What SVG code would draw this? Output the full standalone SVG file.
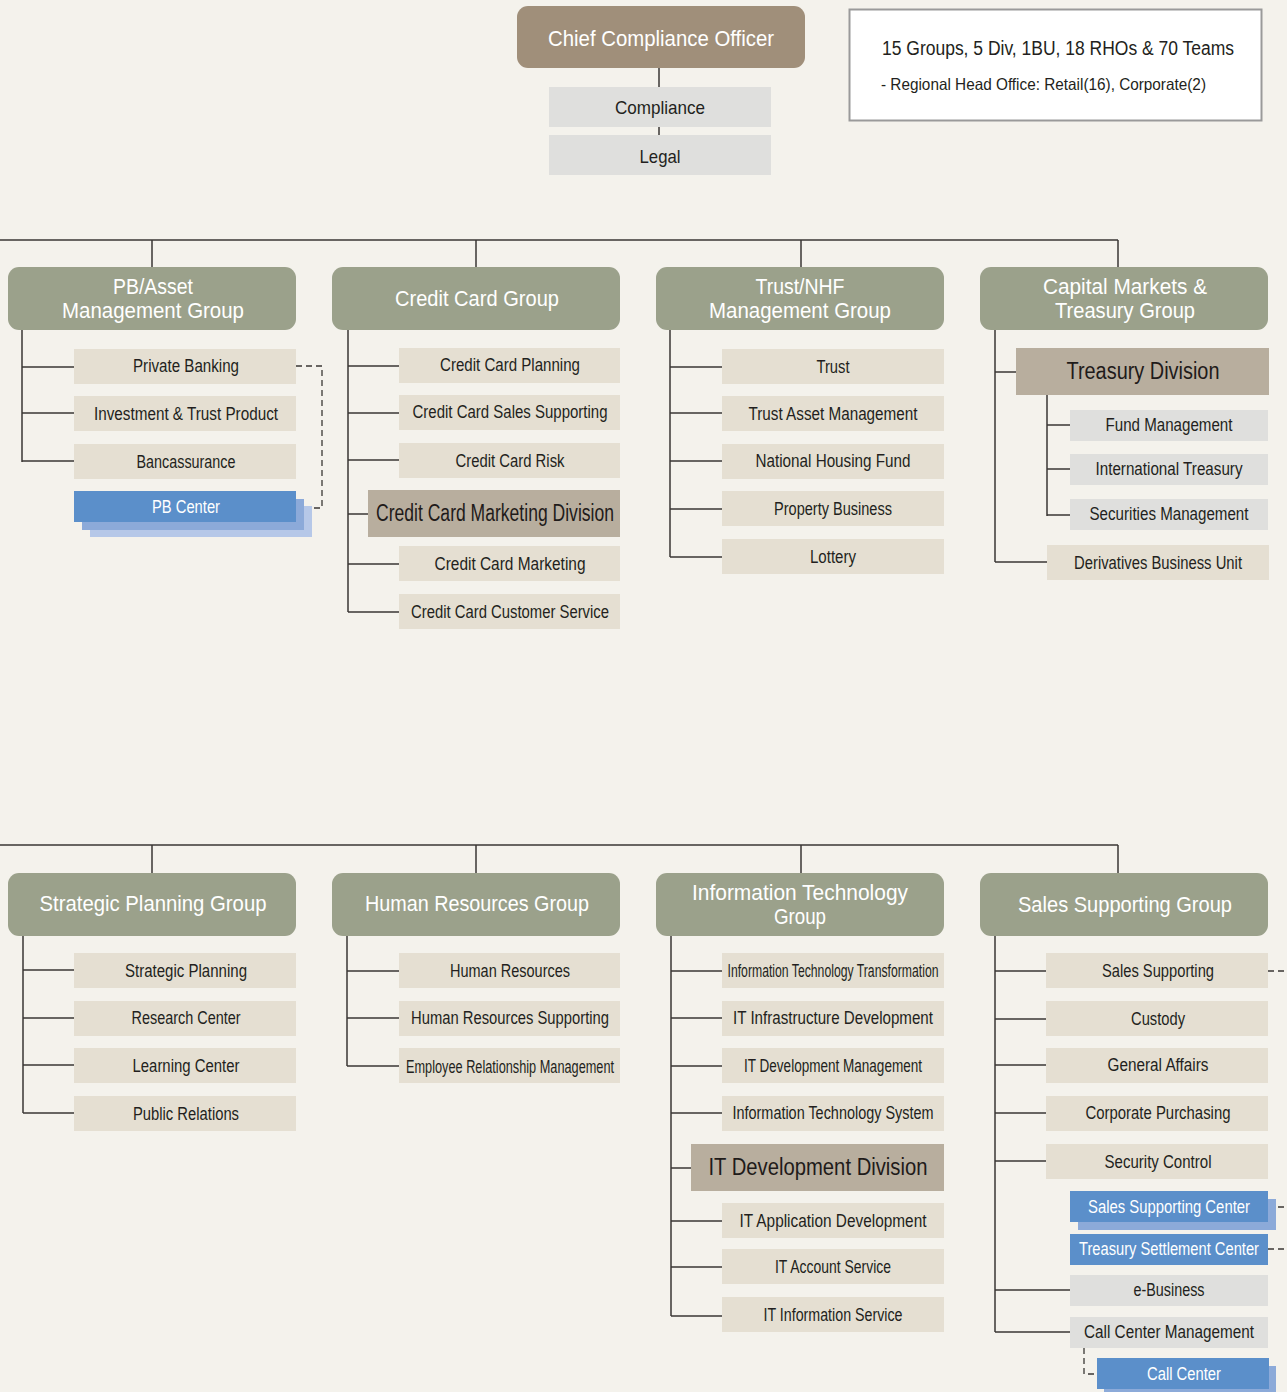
<svg xmlns="http://www.w3.org/2000/svg" width="1287" height="1392" viewBox="0 0 1287 1392">
  <style>
    text { font-family: "Liberation Sans", Arial, sans-serif; text-anchor: middle; dominant-baseline: central; }
    .exec { fill: #a08f7a; }
    .grp { fill: #9ba18b; }
    .hd { fill: #ffffff; font-size: 22px; }
    .team { fill: #e5dfd2; }
    .gray { fill: #dfdfdd; }
    .div { fill: #b8ae9e; }
    .blue { fill: #5b8fca; }
    .sh1 { fill: #8caad9; }
    .sh2 { fill: #b6c8e8; }
    .t { fill: #231f20; font-size: 17.5px; }
    .tb { fill: #ffffff; font-size: 17.5px; }
    .dv { fill: #1f1b1a; font-size: 23px; }
    .ln { stroke: #3a3735; stroke-width: 1.5; fill: none; }
    .dash { stroke: #3a3735; stroke-width: 1.3; fill: none; stroke-dasharray: 6 4; }
  </style>

  <rect width="1287" height="1392" fill="#f4f2ec"/>

  <!-- connectors -->
  <g id="connectors">
    <path class="ln" d="M659 68V87M659 127V135"/>
    <!-- upper bus -->
    <path class="ln" d="M0 240H1118M152 240V267M476 240V267M801 240V267M1118 240V267"/>
    <!-- PB/Asset -->
    <path class="ln" d="M22 330V462M22 367H74M22 413H74M22 461H74"/>
    <path class="dash" d="M296 366H322V508H296"/>
    <!-- Credit Card -->
    <path class="ln" d="M348 330V612M348 366H399M348 413H399M348 460H399M348 514H368M348 564H399M348 612H399"/>
    <!-- Trust/NHF -->
    <path class="ln" d="M670 330V557M670 367H722M670 413H722M670 461H722M670 509H722M670 557H722"/>
    <!-- Capital Markets -->
    <path class="ln" d="M995 330V562M995 372H1016M995 562H1047M1047 394V516M1047 425H1070M1047 469H1070M1047 515H1070"/>
    <!-- lower bus -->
    <path class="ln" d="M0 845H1118M152 845V873M476 845V873M801 845V873M1118 845V873"/>
    <!-- Strategic Planning -->
    <path class="ln" d="M23 936V1113M23 970H74M23 1018H74M23 1065H74M23 1113H74"/>
    <!-- Human Resources -->
    <path class="ln" d="M347 936V1066M347 971H399M347 1018H399M347 1066H399"/>
    <!-- Information Technology -->
    <path class="ln" d="M671 936V1316M671 971H722M671 1018H722M671 1066H722M671 1113H722M671 1168H691M671 1221H722M671 1267H722M671 1316H722"/>
    <!-- Sales Supporting -->
    <path class="ln" d="M995 936V1332M995 971H1046M995 1019H1046M995 1065H1046M995 1113H1046M995 1161H1046M995 1290H1070M995 1332H1070"/>
    <path class="dash" d="M1268 971H1287M1268 1207H1287M1268 1249H1287"/>
    <path class="dash" d="M1084 1348V1374H1097"/>
  </g>

  <!-- executive -->
  <g id="cco">
    <rect class="exec" x="517" y="6" width="288" height="62" rx="11"/>
    <text class="hd" x="661" y="38" textLength="226" lengthAdjust="spacingAndGlyphs">Chief Compliance Officer</text>
  </g>
  <g id="compliance">
    <rect class="gray" x="549" y="87" width="222" height="40"/>
    <text class="t" x="660" y="107" style="font-size:19px" textLength="90" lengthAdjust="spacingAndGlyphs">Compliance</text>
  </g>
  <g id="legal">
    <rect class="gray" x="549" y="135" width="222" height="40"/>
    <text class="t" x="660" y="156" style="font-size:19px" textLength="41" lengthAdjust="spacingAndGlyphs">Legal</text>
  </g>
  <g id="summary">
    <rect x="849.5" y="9.5" width="412" height="111" fill="#ffffff" stroke="#9a9a9a" stroke-width="2"/>
    <text class="t" x="882" y="48" style="text-anchor:start;font-size:19.5px" textLength="352" lengthAdjust="spacingAndGlyphs">15 Groups, 5 Div, 1BU, 18 RHOs &amp; 70 Teams</text>
    <text class="t" x="881" y="84" style="text-anchor:start;font-size:16.5px" textLength="325" lengthAdjust="spacingAndGlyphs">- Regional Head Office: Retail(16), Corporate(2)</text>
  </g>

  <!-- PB/Asset Management Group -->
  <g id="pb-asset-group">
    <rect class="grp" x="8" y="267" width="288" height="63" rx="11"/>
    <text class="hd" x="153" y="286" textLength="80" lengthAdjust="spacingAndGlyphs">PB/Asset</text>
    <text class="hd" x="153" y="310" textLength="182" lengthAdjust="spacingAndGlyphs">Management Group</text>
  </g>
  <g id="private-banking"><rect class="team" x="74" y="349" width="222" height="35"/><text class="t" x="186" y="366" textLength="106" lengthAdjust="spacingAndGlyphs">Private Banking</text></g>
  <g id="investment-trust"><rect class="team" x="74" y="396" width="222" height="35"/><text class="t" x="186" y="414" textLength="184" lengthAdjust="spacingAndGlyphs">Investment &amp; Trust Product</text></g>
  <g id="bancassurance"><rect class="team" x="74" y="444" width="222" height="35"/><text class="t" x="186" y="462" textLength="99" lengthAdjust="spacingAndGlyphs">Bancassurance</text></g>
  <g id="pb-center">
    <rect class="sh2" x="90" y="506" width="222" height="31"/>
    <rect class="sh1" x="82" y="499" width="222" height="31"/>
    <rect class="blue" x="74" y="491" width="222" height="31"/>
    <text class="tb" x="186" y="507" textLength="68" lengthAdjust="spacingAndGlyphs">PB Center</text>
  </g>

  <!-- Credit Card Group -->
  <g id="credit-card-group">
    <rect class="grp" x="332" y="267" width="288" height="63" rx="11"/>
    <text class="hd" x="477" y="298" textLength="164" lengthAdjust="spacingAndGlyphs">Credit Card Group</text>
  </g>
  <g id="cc-planning"><rect class="team" x="399" y="348" width="221" height="35"/><text class="t" x="510" y="365" textLength="140" lengthAdjust="spacingAndGlyphs">Credit Card Planning</text></g>
  <g id="cc-sales"><rect class="team" x="399" y="395" width="221" height="35"/><text class="t" x="510" y="412" textLength="195" lengthAdjust="spacingAndGlyphs">Credit Card Sales Supporting</text></g>
  <g id="cc-risk"><rect class="team" x="399" y="443" width="221" height="35"/><text class="t" x="510" y="461" textLength="109" lengthAdjust="spacingAndGlyphs">Credit Card Risk</text></g>
  <g id="cc-marketing-division"><rect class="div" x="368" y="490" width="252" height="47"/><text class="dv" x="495" y="513" textLength="238" lengthAdjust="spacingAndGlyphs">Credit Card Marketing Division</text></g>
  <g id="cc-marketing"><rect class="team" x="399" y="546" width="221" height="35"/><text class="t" x="510" y="564" textLength="151" lengthAdjust="spacingAndGlyphs">Credit Card Marketing</text></g>
  <g id="cc-customer"><rect class="team" x="399" y="594" width="221" height="35"/><text class="t" x="510" y="612" textLength="198" lengthAdjust="spacingAndGlyphs">Credit Card Customer Service</text></g>

  <!-- Trust/NHF Management Group -->
  <g id="trust-group">
    <rect class="grp" x="656" y="267" width="288" height="63" rx="11"/>
    <text class="hd" x="800" y="286" textLength="89" lengthAdjust="spacingAndGlyphs">Trust/NHF</text>
    <text class="hd" x="800" y="310" textLength="182" lengthAdjust="spacingAndGlyphs">Management Group</text>
  </g>
  <g id="trust"><rect class="team" x="722" y="349" width="222" height="35"/><text class="t" x="833" y="367" textLength="33" lengthAdjust="spacingAndGlyphs">Trust</text></g>
  <g id="trust-asset"><rect class="team" x="722" y="396" width="222" height="35"/><text class="t" x="833" y="414" textLength="169" lengthAdjust="spacingAndGlyphs">Trust Asset Management</text></g>
  <g id="nhf"><rect class="team" x="722" y="444" width="222" height="35"/><text class="t" x="833" y="461" textLength="155" lengthAdjust="spacingAndGlyphs">National Housing Fund</text></g>
  <g id="property"><rect class="team" x="722" y="491" width="222" height="35"/><text class="t" x="833" y="509" textLength="118" lengthAdjust="spacingAndGlyphs">Property Business</text></g>
  <g id="lottery"><rect class="team" x="722" y="539" width="222" height="35"/><text class="t" x="833" y="557" textLength="46" lengthAdjust="spacingAndGlyphs">Lottery</text></g>

  <!-- Capital Markets & Treasury Group -->
  <g id="capital-group">
    <rect class="grp" x="980" y="267" width="288" height="63" rx="11"/>
    <text class="hd" x="1125" y="286" textLength="164" lengthAdjust="spacingAndGlyphs">Capital Markets &amp;</text>
    <text class="hd" x="1125" y="310" textLength="140" lengthAdjust="spacingAndGlyphs">Treasury Group</text>
  </g>
  <g id="treasury-division"><rect class="div" x="1016" y="348" width="253" height="47"/><text class="dv" x="1143" y="371" textLength="153" lengthAdjust="spacingAndGlyphs">Treasury Division</text></g>
  <g id="fund-mgmt"><rect class="gray" x="1070" y="410" width="198" height="31"/><text class="t" x="1169" y="425" textLength="127" lengthAdjust="spacingAndGlyphs">Fund Management</text></g>
  <g id="intl-treasury"><rect class="gray" x="1070" y="454" width="198" height="31"/><text class="t" x="1169" y="469" textLength="147" lengthAdjust="spacingAndGlyphs">International Treasury</text></g>
  <g id="securities"><rect class="gray" x="1070" y="499" width="198" height="31"/><text class="t" x="1169" y="514" textLength="159" lengthAdjust="spacingAndGlyphs">Securities Management</text></g>
  <g id="derivatives"><rect class="team" x="1047" y="545" width="222" height="35"/><text class="t" x="1158" y="563" textLength="168" lengthAdjust="spacingAndGlyphs">Derivatives Business Unit</text></g>

  <!-- Strategic Planning Group -->
  <g id="strategic-group">
    <rect class="grp" x="8" y="873" width="288" height="63" rx="11"/>
    <text class="hd" x="153" y="903" textLength="227" lengthAdjust="spacingAndGlyphs">Strategic Planning Group</text>
  </g>
  <g id="strategic-planning"><rect class="team" x="74" y="953" width="222" height="35"/><text class="t" x="186" y="971" textLength="122" lengthAdjust="spacingAndGlyphs">Strategic Planning</text></g>
  <g id="research"><rect class="team" x="74" y="1001" width="222" height="35"/><text class="t" x="186" y="1018" textLength="109" lengthAdjust="spacingAndGlyphs">Research Center</text></g>
  <g id="learning"><rect class="team" x="74" y="1048" width="222" height="35"/><text class="t" x="186" y="1066" textLength="107" lengthAdjust="spacingAndGlyphs">Learning Center</text></g>
  <g id="public-relations"><rect class="team" x="74" y="1096" width="222" height="35"/><text class="t" x="186" y="1114" textLength="106" lengthAdjust="spacingAndGlyphs">Public Relations</text></g>

  <!-- Human Resources Group -->
  <g id="hr-group">
    <rect class="grp" x="332" y="873" width="288" height="63" rx="11"/>
    <text class="hd" x="477" y="903" textLength="224" lengthAdjust="spacingAndGlyphs">Human Resources Group</text>
  </g>
  <g id="hr"><rect class="team" x="399" y="953" width="221" height="35"/><text class="t" x="510" y="971" textLength="120" lengthAdjust="spacingAndGlyphs">Human Resources</text></g>
  <g id="hr-support"><rect class="team" x="399" y="1001" width="221" height="35"/><text class="t" x="510" y="1018" textLength="198" lengthAdjust="spacingAndGlyphs">Human Resources Supporting</text></g>
  <g id="erm"><rect class="team" x="399" y="1048" width="221" height="35"/><text class="t" x="510" y="1067" textLength="208" lengthAdjust="spacingAndGlyphs">Employee Relationship Management</text></g>

  <!-- Information Technology Group -->
  <g id="it-group">
    <rect class="grp" x="656" y="873" width="288" height="63" rx="11"/>
    <text class="hd" x="800" y="892" textLength="216" lengthAdjust="spacingAndGlyphs">Information Technology</text>
    <text class="hd" x="800" y="916" textLength="52" lengthAdjust="spacingAndGlyphs">Group</text>
  </g>
  <g id="it-transformation"><rect class="team" x="722" y="953" width="222" height="35"/><text class="t" x="833" y="971" textLength="211" lengthAdjust="spacingAndGlyphs">Information Technology Transformation</text></g>
  <g id="it-infra"><rect class="team" x="722" y="1001" width="222" height="35"/><text class="t" x="833" y="1018" textLength="200" lengthAdjust="spacingAndGlyphs">IT Infrastructure Development</text></g>
  <g id="it-dev-mgmt"><rect class="team" x="722" y="1048" width="222" height="35"/><text class="t" x="833" y="1066" textLength="178" lengthAdjust="spacingAndGlyphs">IT Development Management</text></g>
  <g id="it-system"><rect class="team" x="722" y="1096" width="222" height="35"/><text class="t" x="833" y="1113" textLength="201" lengthAdjust="spacingAndGlyphs">Information Technology System</text></g>
  <g id="it-dev-division"><rect class="div" x="691" y="1144" width="253" height="47"/><text class="dv" x="818" y="1167" textLength="219" lengthAdjust="spacingAndGlyphs">IT Development Division</text></g>
  <g id="it-app"><rect class="team" x="722" y="1203" width="222" height="35"/><text class="t" x="833" y="1221" textLength="187" lengthAdjust="spacingAndGlyphs">IT Application Development</text></g>
  <g id="it-account"><rect class="team" x="722" y="1249" width="222" height="35"/><text class="t" x="833" y="1267" textLength="116" lengthAdjust="spacingAndGlyphs">IT Account Service</text></g>
  <g id="it-info"><rect class="team" x="722" y="1297" width="222" height="35"/><text class="t" x="833" y="1315" textLength="139" lengthAdjust="spacingAndGlyphs">IT Information Service</text></g>

  <!-- Sales Supporting Group -->
  <g id="sales-group">
    <rect class="grp" x="980" y="873" width="288" height="63" rx="11"/>
    <text class="hd" x="1125" y="904" textLength="214" lengthAdjust="spacingAndGlyphs">Sales Supporting Group</text>
  </g>
  <g id="sales-supporting"><rect class="team" x="1046" y="953" width="222" height="35"/><text class="t" x="1158" y="971" textLength="112" lengthAdjust="spacingAndGlyphs">Sales Supporting</text></g>
  <g id="custody"><rect class="team" x="1046" y="1001" width="222" height="35"/><text class="t" x="1158" y="1019" textLength="54" lengthAdjust="spacingAndGlyphs">Custody</text></g>
  <g id="general-affairs"><rect class="team" x="1046" y="1048" width="222" height="35"/><text class="t" x="1158" y="1065" textLength="101" lengthAdjust="spacingAndGlyphs">General Affairs</text></g>
  <g id="purchasing"><rect class="team" x="1046" y="1096" width="222" height="35"/><text class="t" x="1158" y="1113" textLength="145" lengthAdjust="spacingAndGlyphs">Corporate Purchasing</text></g>
  <g id="security"><rect class="team" x="1046" y="1144" width="222" height="35"/><text class="t" x="1158" y="1162" textLength="107" lengthAdjust="spacingAndGlyphs">Security Control</text></g>
  <g id="sales-center">
    <rect class="sh1" x="1078" y="1199" width="198" height="31"/>
    <rect class="blue" x="1070" y="1191" width="198" height="31"/>
    <text class="tb" x="1169" y="1207" textLength="162" lengthAdjust="spacingAndGlyphs">Sales Supporting Center</text>
  </g>
  <g id="settlement-center">
    <rect class="blue" x="1070" y="1234" width="198" height="31"/>
    <text class="tb" x="1169" y="1249" textLength="180" lengthAdjust="spacingAndGlyphs">Treasury Settlement Center</text>
  </g>
  <g id="e-business"><rect class="gray" x="1070" y="1275" width="198" height="31"/><text class="t" x="1169" y="1290" textLength="71" lengthAdjust="spacingAndGlyphs">e-Business</text></g>
  <g id="call-center-mgmt"><rect class="gray" x="1070" y="1317" width="198" height="31"/><text class="t" x="1169" y="1332" textLength="170" lengthAdjust="spacingAndGlyphs">Call Center Management</text></g>
  <g id="call-center">
    <rect class="sh1" x="1104" y="1366" width="172" height="26"/>
    <rect class="blue" x="1097" y="1358" width="172" height="31"/>
    <text class="tb" x="1184" y="1374" textLength="74" lengthAdjust="spacingAndGlyphs">Call Center</text>
  </g>
</svg>
